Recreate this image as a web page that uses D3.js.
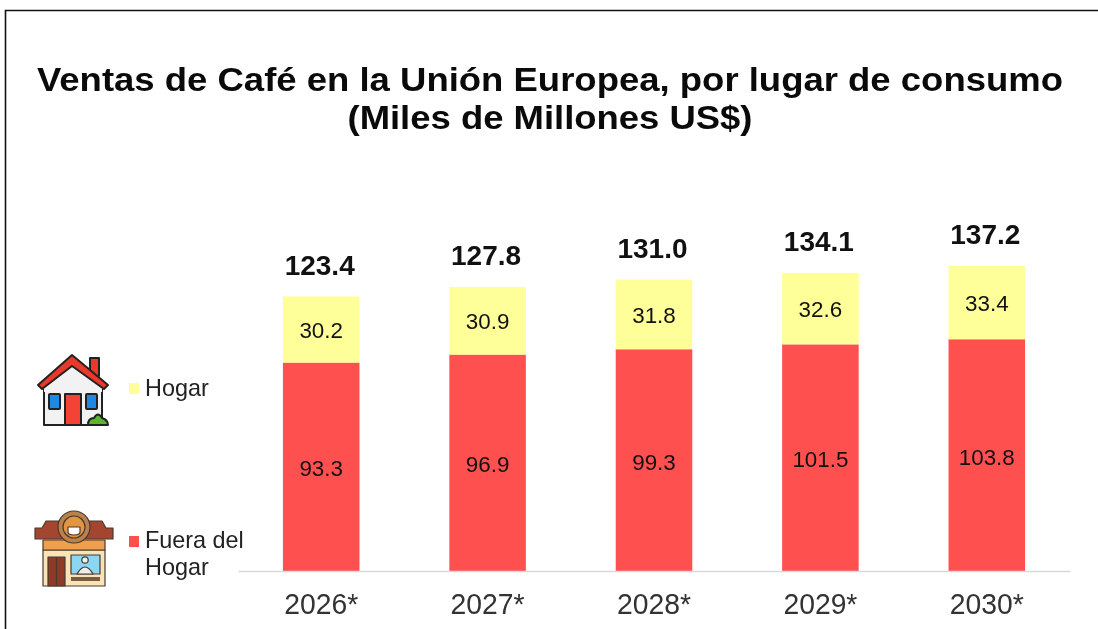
<!DOCTYPE html>
<html><head><meta charset="utf-8">
<script src="https://d3js.org/d3.v7.min.js"></script>
<style>html,body{margin:0;background:#fff}svg{display:block;filter:blur(.45px)}text{font-family:"Liberation Sans",Arial,sans-serif}</style>
</head><body><svg id="c" width="1098" height="629"></svg>
<script>
const years=["2026*","2027*","2028*","2029*","2030*"];
const fuera=[93.3,96.9,99.3,101.5,103.8];
const hogar=[30.2,30.9,31.8,32.6,33.4];
const totals=[123.4,127.8,131.0,134.1,137.2];
const titleLines=["Ventas de Café en la Unión Europea, por lugar de consumo","(Miles de Millones US$)"];
const titleWidths=[1026,405];
const RED="#ff5050",YEL="#ffff99";
const svg=d3.select("#c");
svg.append("path").attr("d","M5.5 629V10.5H1098").attr("fill","none").attr("stroke","#111").attr("stroke-width",1.6);
svg.selectAll(".t").data(titleLines).join("text").attr("x",550).attr("y",(d,i)=>91+i*38)
 .attr("text-anchor","middle").attr("font-size",33.5).attr("font-weight","bold").attr("fill","#0a0a0a")
 .attr("textLength",(d,i)=>titleWidths[i]).attr("lengthAdjust","spacingAndGlyphs").text(d=>d);
const x=d3.scaleBand().domain(years).range([238,1070]).paddingInner(.54).paddingOuter(.27);
const y=d3.scaleLinear().domain([0,137.2]).range([571,266]);
const g=svg.selectAll(".b").data(years).join("g");
g.append("rect").attr("x",d=>x(d)).attr("width",x.bandwidth()).attr("y",(d,i)=>y(fuera[i])-1).attr("height",(d,i)=>y(0)-y(fuera[i])+1).attr("fill",RED);
g.append("rect").attr("x",d=>x(d)).attr("width",x.bandwidth()).attr("y",(d,i)=>y(fuera[i]+hogar[i])).attr("height",(d,i)=>y(0)-y(hogar[i])-1).attr("fill",YEL);
const cx=d=>x(d)+x.bandwidth()/2;
g.append("text").attr("x",cx).attr("y",(d,i)=>y(fuera[i]/2)+9).attr("text-anchor","middle").attr("font-size",22.4).attr("fill","#111").text((d,i)=>fuera[i].toFixed(1));
g.append("text").attr("x",cx).attr("y",(d,i)=>y(fuera[i]+hogar[i]/2)+8).attr("text-anchor","middle").attr("font-size",22.4).attr("fill","#111").text((d,i)=>hogar[i].toFixed(1));
g.append("text").attr("x",d=>cx(d)-1.5).attr("y",(d,i)=>y(totals[i])-22).attr("text-anchor","middle").attr("font-size",28).attr("font-weight","bold").attr("fill","#111").text((d,i)=>totals[i].toFixed(1));
const ax=svg.append("g").attr("transform","translate(0,571)").call(d3.axisBottom(x).tickSize(0).tickPadding(22));
ax.select(".domain").attr("stroke","#d9d9d9").attr("stroke-width",1.5);
ax.selectAll("text").attr("font-size",29).attr("fill","#333").attr("font-family",'"Liberation Sans",Arial,sans-serif').attr("textLength",74).attr("lengthAdjust","spacingAndGlyphs");
// legend
const legend=[{c:YEL,l:["Hogar"],sq:383,base:396},{c:RED,l:["Fuera del","Hogar"],sq:536,base:548}];
legend.forEach(k=>{
 svg.append("rect").attr("x",129).attr("y",k.sq).attr("width",10).attr("height",11).attr("fill",k.c);
 k.l.forEach((s,i)=>svg.append("text").attr("x",145).attr("y",k.base+i*26.5).attr("font-size",23.4).attr("fill","#222").text(s));
});
// house icon
const h=svg.append("g").attr("stroke","#222").attr("stroke-width",2).attr("stroke-linejoin","round");
h.append("rect").attr("x",44).attr("y",382).attr("width",58).attr("height",43).attr("fill","#f2f2f2");
h.append("path").attr("d","M44 385L72 361L102 385L102 392L44 392Z").attr("fill","#f2f2f2").attr("stroke","none");
h.append("rect").attr("x",90).attr("y",358).attr("width",9).attr("height",18).attr("fill","#e8392b");
h.append("path").attr("d","M38 385L72 355L108 385L104 389L72 366L42 389Z").attr("fill","#e8392b");
h.append("rect").attr("x",49).attr("y",394).attr("width",11).attr("height",15).attr("rx",1).attr("fill","#1e88e5");
h.append("rect").attr("x",86).attr("y",394).attr("width",11).attr("height",15).attr("rx",1).attr("fill","#1e88e5");
h.append("rect").attr("x",65).attr("y",394).attr("width",16).attr("height",31).attr("fill","#f44336");
h.append("path").attr("d","M88 425Q88 418 94 418Q98 411 102 418Q108 420 108 425Z").attr("fill","#5cb531");
// cafe icon
const s=svg.append("g").attr("stroke","#4a3a30").attr("stroke-width",1.2).attr("stroke-linejoin","round");
s.append("rect").attr("x",43).attr("y",550).attr("width",62).attr("height",36).attr("fill","#fbe3b8");
s.append("rect").attr("x",43).attr("y",540).attr("width",62).attr("height",10).attr("fill","#f0a04b");
s.append("path").attr("d","M46 521H102L106 528H113V539H35V528H42Z").attr("fill","#a3452f");
s.append("circle").attr("cx",74).attr("cy",527).attr("r",16).attr("fill","#b9824a");
s.append("circle").attr("cx",74).attr("cy",527).attr("r",11).attr("fill","#e3963f");
s.append("path").attr("d","M68 527H80V532Q80 535 74 535Q68 535 68 532Z").attr("fill","#fff");
s.append("rect").attr("x",48).attr("y",557).attr("width",17).attr("height",29).attr("fill","#8e3a28");
s.append("line").attr("x1",56.5).attr("x2",56.5).attr("y1",557).attr("y2",586);
s.append("rect").attr("x",71).attr("y",555).attr("width",29).attr("height",19).attr("fill","#8bd6f2");
s.append("circle").attr("cx",85).attr("cy",560).attr("r",3.2).attr("fill","#eee");
s.append("path").attr("d","M77 574Q85 560 93 574Z").attr("fill","#eee");
s.append("rect").attr("x",71).attr("y",577).attr("width",29).attr("height",4).attr("fill","#7a5a40").attr("stroke","none");
</script></body></html>
